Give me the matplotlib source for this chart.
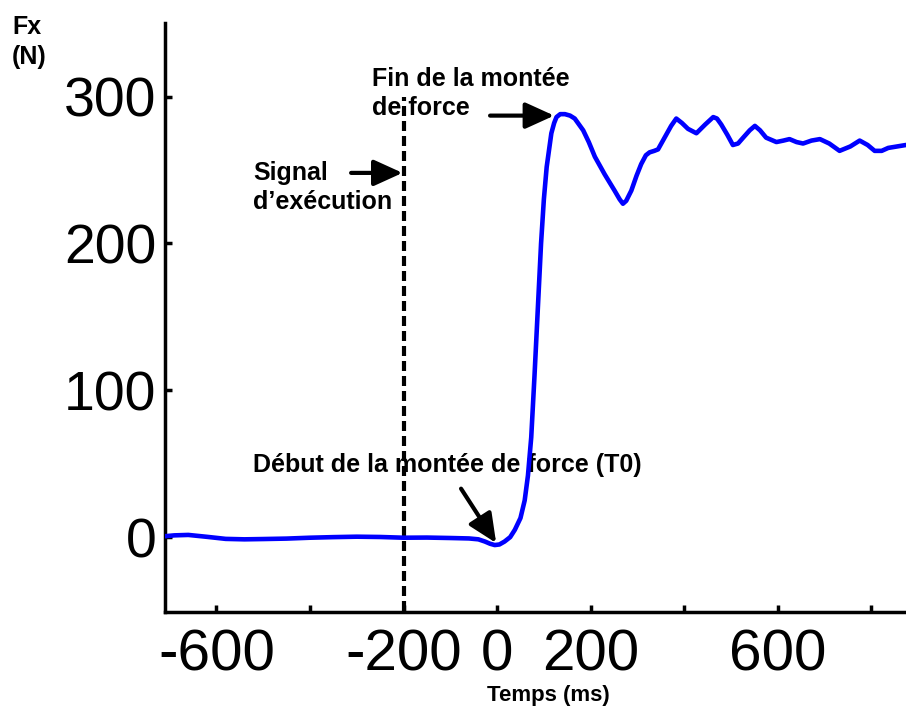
import matplotlib.pyplot as plt

plt.rcParams['font.family'] = ['Liberation Sans', 'DejaVu Sans']

# Force trace Fx (N) against time (ms)
t_ms = [-714, -690, -660, -620, -580, -540, -500, -450, -400, -350, -300, -250,
        -200, -150, -100, -60, -40, -26, -15, -5, 5, 16, 28, 38, 50, 59, 66, 73,
        80, 87, 94, 100, 106, 116, 122, 127, 135, 145, 156, 166, 175, 184, 196,
        209, 230, 251, 262, 269, 276, 287, 298, 308, 318, 326, 336, 344, 358,
        372, 383, 395, 408, 426, 445, 462, 470, 479, 492, 504, 515, 526, 540,
        551, 562, 575, 597, 612, 625, 640, 654, 672, 690, 710, 732, 755, 775,
        792, 807, 822, 836, 855, 874]
fx_n = [0.5, 1.2, 1.5, 0.2, -1.2, -1.5, -1.3, -1.0, -0.4, 0.0, 0.3, 0.1,
        -0.4, -0.3, -0.6, -0.9, -1.5, -3.0, -4.5, -5.4, -5.0, -3.0, 0.0, 5, 13, 25, 42, 68,
        110, 155, 200, 230, 252, 275, 282, 286, 288, 288, 287, 285, 281, 277, 269,
        259, 247, 236, 230, 227, 229, 236, 246, 254, 260, 262, 263, 264, 272,
        280, 285, 282, 278, 275, 281, 286, 285, 281, 274, 267, 268, 272, 277,
        280, 277, 272, 269, 270, 271, 269, 268, 270, 271, 268, 263, 266, 270,
        267, 263, 263, 265, 266, 267]

x_ticks = [-600, -400, -200, 0, 200, 400, 600, 800]
x_tick_labels = ['-600', '', '-200', '0', '200', '', '600', '']
y_ticks = [0, 100, 200, 300]
y_tick_labels = ['0', '100', '200', '300']

t_signal = -200   # execution signal
t_onset = -2      # start of force rise (T0)
t_peak = 130      # end of force rise

fig = plt.figure(figsize=(9.06, 7.17), dpi=100)
ax = fig.add_axes([0.182, 0.1464, 0.818, 0.8214])

ax.plot(t_ms, fx_n, color='#0000ff', lw=3.3, zorder=4,
        solid_capstyle='round', solid_joinstyle='round')
ax.plot([t_signal, t_signal], [-50, 300], color='black', lw=3,
        linestyle=(0, (2.4, 1.2)), zorder=3)

ax.set_xlim(-710, 874)
ax.set_ylim(-51, 350)

for side in ['top', 'right']:
    ax.spines[side].set_visible(False)
for side in ['left', 'bottom']:
    ax.spines[side].set_linewidth(2.5)

ax.set_xticks(x_ticks)
ax.set_xticklabels(x_tick_labels, fontsize=42)
ax.set_yticks(y_ticks)
ax.set_yticklabels(y_tick_labels, fontsize=40)
ax.tick_params(axis='both', direction='in', length=5, width=2.5)
ax.tick_params(axis='x', pad=12)
ax.tick_params(axis='y', pad=6)

arrow = dict(arrowstyle='-|>,head_length=1.1,head_width=0.5', lw=3,
             color='black', shrinkA=0, shrinkB=0, mutation_scale=16)

ax.annotate('', xy=(t_peak - 8, 287), xytext=(-15, 287), arrowprops=arrow, zorder=5)
ax.annotate('', xy=(t_signal - 2, 248), xytext=(-312, 248), arrowprops=arrow, zorder=5)
ax.annotate('', xy=(t_onset, -4), xytext=(-77, 33), arrowprops=arrow, zorder=5)

bold = dict(fontsize=18, fontweight='bold', color='black')
ax.text(-268, 302, 'Fin de la montée\nde force', ha='left', va='center',
        linespacing=1.3, zorder=2, **bold)
ax.text(-522, 238, 'Signal\nd\u2019exécution', ha='left', va='center',
        linespacing=1.3, zorder=2, **bold)
ax.text(-522, 49, 'Début de la montée de force (T0)', ha='left', va='center',
        zorder=2, **bold)

fig.text(12 / 906, 1 - 42 / 717, 'Fx\n(N)', ha='left', va='center',
         linespacing=1.3, **bold)
fig.text(548 / 906, 1 - 695 / 717, 'Temps (ms)', ha='center', va='center',
         fontsize=16, fontweight='bold')

fig.savefig('out.png', dpi=100)
